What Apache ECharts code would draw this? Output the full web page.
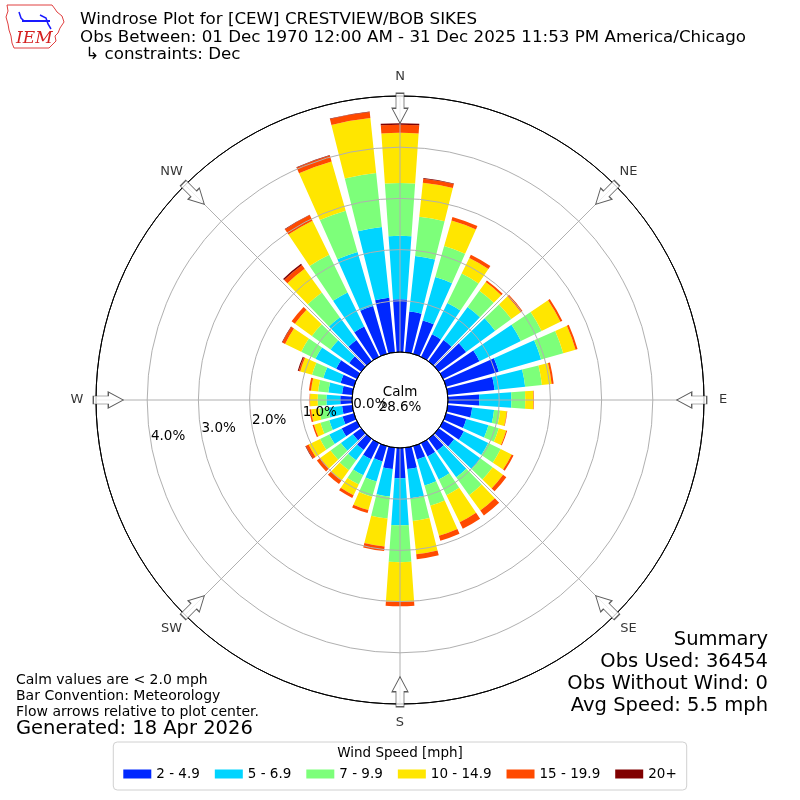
<!DOCTYPE html>
<html>
<head>
<meta charset="utf-8">
<title>Windrose CEW</title>
<script src="https://cdn.jsdelivr.net/npm/echarts@6/dist/echarts.min.js"></script>
<style>
  html, body { margin: 0; padding: 0; background: #fff; }
  #rose { width: 800px; height: 800px; }
</style>
</head>
<body>
<div id="rose"></div>
<script>
// directions (deg, met. convention), every 10 degrees
const directions = ['0', '10', '20', '30', '40', '50', '60', '70', '80', '90', '100', '110',
  '120', '130', '140', '150', '160', '170', '180', '190', '200', '210', '220', '230',
  '240', '250', '260', '270', '280', '290', '300', '310', '320', '330', '340', '350']

const speedBins = ['2 - 4.9', '5 - 6.9', '7 - 9.9', '10 - 14.9', '15 - 19.9', '20+']
const binColors = ['#0028ff', '#00d4ff', '#7dff7a', '#ffe600', '#ff4a00', '#800000']

// percent of obs per direction, one array per speed bin
const bin2to5 = [1.03, 0.80, 0.68, 0.49, 0.51, 0.66, 0.79, 1.07, 0.92, 0.61, 0.48, 0.41,
  0.45, 0.37, 0.29, 0.29, 0.27, 0.42, 0.59, 0.42, 0.31, 0.35, 0.27, 0.20,
  0.33, 0.23, 0.20, 0.23, 0.20, 0.27, 0.45, 0.29, 0.51, 0.66, 0.97, 1.07]
const bin5to7 = [1.24, 1.09, 0.88, 0.68, 0.80, 0.70, 0.90, 0.86, 0.60, 0.63, 0.43, 0.45,
  0.53, 0.64, 0.64, 0.50, 0.53, 0.57, 0.92, 0.54, 0.41, 0.35, 0.25, 0.29,
  0.27, 0.27, 0.27, 0.27, 0.27, 0.35, 0.45, 0.45, 0.55, 0.74, 1.10, 1.39]
const bin7to10 = [1.03, 0.77, 0.63, 0.64, 0.39, 0.39, 0.45, 0.45, 0.33, 0.27, 0.12, 0.21,
  0.27, 0.29, 0.43, 0.34, 0.41, 0.45, 0.72, 0.43, 0.31, 0.20, 0.24, 0.25,
  0.20, 0.18, 0.18, 0.17, 0.20, 0.23, 0.31, 0.45, 0.60, 0.82, 0.84, 1.06]
const bin10to15 = [0.98, 0.67, 0.52, 0.34, 0.21, 0.23, 0.41, 0.25, 0.19, 0.16, 0.13, 0.15,
  0.24, 0.25, 0.37, 0.59, 0.61, 0.65, 0.78, 0.55, 0.27, 0.23, 0.25, 0.25,
  0.25, 0.13, 0.16, 0.15, 0.14, 0.24, 0.35, 0.41, 0.57, 0.74, 1.00, 1.08]
const bin15to20 = [0.16, 0.08, 0.07, 0.07, 0.04, 0.04, 0.04, 0.04, 0.04, 0.01, 0.01, 0.02,
  0.04, 0.08, 0.12, 0.14, 0.10, 0.10, 0.08, 0.09, 0.06, 0.06, 0.08, 0.08,
  0.06, 0.03, 0.03, 0.01, 0.04, 0.03, 0.06, 0.08, 0.09, 0.12, 0.12, 0.12]
const bin20up = [0.03, 0.01, 0, 0, 0, 0, 0, 0, 0, 0, 0, 0,
  0, 0, 0, 0, 0, 0, 0, 0, 0, 0, 0, 0,
  0.01, 0, 0, 0, 0, 0.02, 0.01, 0, 0.03, 0.01, 0.01, 0.01]

const binValues = [bin2to5, bin5to7, bin7to10, bin10to15, bin15to20, bin20up]

const radialLabels = ['0.0%', '1.0%', '2.0%', '3.0%', '4.0%']
const compassLabels = ['N', 'NE', 'E', 'SE', 'S', 'SW', 'W', 'NW']

const titleLines = [
  'Windrose Plot for [CEW] CRESTVIEW/BOB SIKES',
  'Obs Between: 01 Dec 1970 12:00 AM - 31 Dec 2025 11:53 PM America/Chicago',
  ' \u21b3 constraints: Dec'
]
const notes = ['Calm values are < 2.0 mph', 'Bar Convention: Meteorology', 'Flow arrows relative to plot center.']
const summary = ['Summary', 'Obs Used: 36454', 'Obs Without Wind: 0', 'Avg Speed: 5.5 mph']
const calmText = ['Calm', '28.6%']

const FONT = 'DejaVu Sans'

function txt(x, y, text, size, align) {
  return {
    type: 'text', x: x, y: y, z: 20,
    style: {
      text: text, fontSize: size, fontFamily: FONT, fill: '#000',
      textAlign: align || 'left', textVerticalAlign: 'middle'
    }
  }
}

const chart = echarts.init(document.getElementById('rose'), null, { renderer: 'canvas' })

// stacked bars, one series per speed bin
const barSeries = speedBins.map((name, i) => ({
  name: name,
  type: 'bar',
  coordinateSystem: 'polar',
  polarIndex: 0,
  stack: 'wind',
  data: binValues[i],
  barCategoryGap: '20%',
  itemStyle: { color: binColors[i] },
  silent: true
}))

// hollow flow arrows at the 8 compass points
const arrowSeries = {
  type: 'scatter',
  coordinateSystem: 'polar',
  polarIndex: 1,
  symbol: 'path://M4,0 L12,0 L12,15 L16,15 L8,30 L0,15 L4,15 Z',
  symbolSize: [16, 30],
  itemStyle: { color: '#ffffff', borderColor: '#333333', borderWidth: 1 },
  data: compassLabels.map((c, i) => ({ value: [4.76, i * 45], symbolRotate: -i * 45 })),
  z: 8,
  silent: true
}

// compass names, centred just outside the rim (own polar, radius = label ring)
const compassSeries = {
  type: 'scatter',
  coordinateSystem: 'polar',
  polarIndex: 3,
  symbolSize: 1,
  itemStyle: { color: 'rgba(0,0,0,0)' },
  label: { show: true, position: 'inside', formatter: '{b}', fontSize: 13, color: '#000', fontFamily: FONT },
  data: compassLabels.map((c, i) => ({ name: c, value: [1, i * 45] })),
  z: 8,
  silent: true
}

const graphics = []
titleLines.forEach((t, i) => graphics.push(txt(80, 20 + i * 17.5, t, 16.7)))
notes.forEach((t, i) => graphics.push(txt(16, 680 + i * 16, t, 14)))
graphics.push(txt(16, 729, 'Generated: 18 Apr 2026', 19.5))
summary.forEach((t, i) => graphics.push(txt(768, 640 + i * 22, t, 19.5, 'right')))
graphics.push(txt(400, 392, calmText[0], 13.5, 'center'))
graphics.push(txt(400, 407, calmText[1], 13.5, 'center'))
graphics.push(txt(400, 753, 'Wind Speed [mph]', 13.5, 'center'))

// IEM logo (rough)
graphics.push({
  type: 'polyline', z: 20,
  shape: { points: [[7, 5], [52, 5], [55, 9], [57, 12], [62, 16], [64, 22], [60, 28], [58, 33], [55, 36],
    [56, 41], [52, 45], [49, 48], [14, 48], [12, 43], [11, 36], [9, 30], [8, 24], [6, 17], [8, 11], [7, 5]] },
  style: { stroke: '#e04040', fill: null, lineWidth: 1 }
})
graphics.push({
  type: 'polyline', z: 20,
  shape: { points: [[22, 21], [50, 21]] },
  style: { stroke: '#1a1aff', lineWidth: 2 }
})
graphics.push({
  type: 'polyline', z: 20,
  shape: { points: [[19, 12], [21, 18], [24, 21]] },
  style: { stroke: '#1a1aff', lineWidth: 1.5, fill: null }
})
graphics.push({
  type: 'polyline', z: 20,
  shape: { points: [[40, 15], [46, 18], [48, 24], [51, 29]] },
  style: { stroke: '#1a1aff', lineWidth: 1.5, fill: null }
})
graphics.push({
  type: 'text', x: 16, y: 39, z: 20,
  style: { text: 'IEM', fontSize: 17, fontFamily: 'DejaVu Serif', fontStyle: 'italic', fill: '#d42020', textVerticalAlign: 'middle' }
})

const option = {
  animation: false,
  backgroundColor: '#ffffff',
  textStyle: { fontFamily: FONT },
  polar: [
    { center: ['50%', '50%'], radius: [48, 304] },
    { center: ['50%', '50%'], radius: [48, 304] },
    { center: ['50%', '50%'], radius: [30, 286] },
    { center: ['50%', '50%'], radius: [0, 323] }
  ],
  angleAxis: [
    {
      polarIndex: 0, type: 'category', data: directions, startAngle: 95, clockwise: true,
      axisLine: { show: false }, axisTick: { show: false }, axisLabel: { show: false }, splitLine: { show: false }
    },
    {
      polarIndex: 1, type: 'value', min: 0, max: 360, interval: 45, startAngle: 90, clockwise: true, z: 5,
      axisLine: { lineStyle: { color: '#000', width: 1 } },
      axisTick: { show: false },
      axisLabel: { show: false },
      splitLine: { lineStyle: { color: '#b0b0b0', width: 1 } }
    },
    { polarIndex: 2, type: 'value', min: 0, max: 360, startAngle: 189, show: false },
    { polarIndex: 3, type: 'value', min: 0, max: 360, startAngle: 90, clockwise: true, show: false }
  ],
  radiusAxis: [
    { polarIndex: 0, type: 'value', min: 0, max: 5, show: false },
    {
      polarIndex: 1, type: 'value', min: 0, max: 5, interval: 1, z: 5,
      axisLine: { show: false }, axisTick: { show: false }, axisLabel: { show: false },
      splitLine: { lineStyle: { color: ['#000', '#b0b0b0', '#b0b0b0', '#b0b0b0', '#b0b0b0', '#000'], width: 1 } }
    },
    {
      polarIndex: 2, type: 'value', min: 0, max: 5, interval: 1, z: 6,
      axisLine: { show: false }, axisTick: { show: false }, splitLine: { show: false },
      axisLabel: {
        margin: 0, fontSize: 13.5, color: '#000', fontFamily: FONT, align: 'center', verticalAlign: 'middle',
        formatter: (v) => radialLabels[v] || ''
      }
    },
    { polarIndex: 3, type: 'value', min: 0, max: 1, show: false }
  ],
  legend: {
    data: speedBins,
    left: 'center', top: 742, orient: 'horizontal',
    icon: 'rect', itemWidth: 28, itemHeight: 9, itemGap: 15,
    padding: [25, 10, 9, 10],
    borderColor: '#d0d0d0', borderWidth: 1, borderRadius: 4,
    selectedMode: false,
    textStyle: { fontSize: 13.5, color: '#000', fontFamily: FONT }
  },
  graphic: graphics,
  series: barSeries.concat([arrowSeries, compassSeries])
}

chart.setOption(option)
</script>
</body>
</html>
